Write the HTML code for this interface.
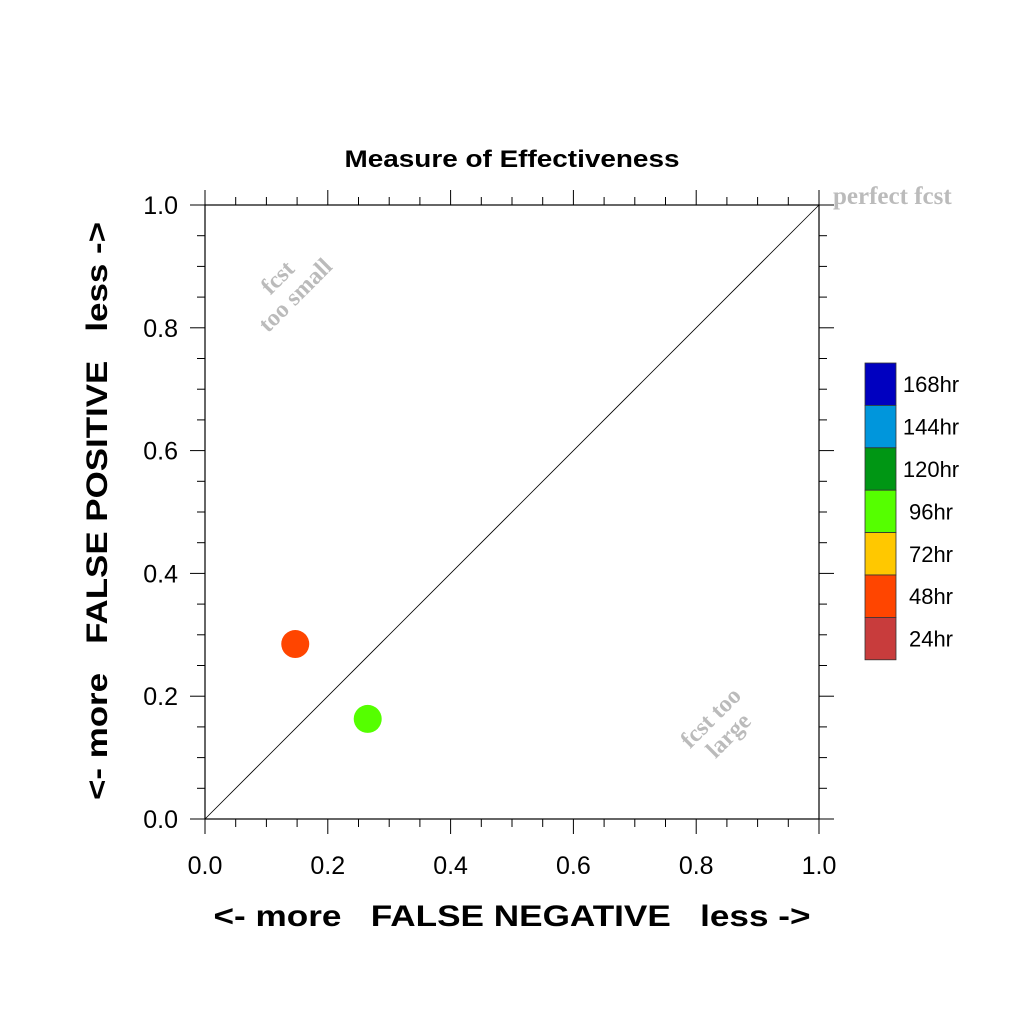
<!DOCTYPE html>
<html><head><meta charset="utf-8"><style>
html,body{margin:0;padding:0;background:#fff}
svg{display:block}
text{font-family:"Liberation Sans",Arial,sans-serif}
.ser{font-family:"Liberation Serif",serif;font-weight:bold;fill:#bbb}
</style></head><body>
<svg id="chart" width="1024" height="1024" viewBox="0 0 1024 1024">
<rect width="1024" height="1024" fill="#fff"/>
<text x="512" y="167" font-size="24" font-weight="bold" text-anchor="middle" textLength="335" lengthAdjust="spacingAndGlyphs">Measure of Effectiveness</text>
<g id="axes"></g>
<line x1="205" y1="819" x2="819" y2="205" stroke="#000" stroke-width="0.8"/>
<text class="ser" x="833" y="204" font-size="25">perfect fcst</text>
<g transform="translate(288,288) rotate(-45)">
<text class="ser" x="0" y="-7" font-size="24" text-anchor="middle">fcst</text>
<text class="ser" x="0" y="18" font-size="24" text-anchor="middle">too small</text></g>
<g transform="translate(719,726) rotate(-45)">
<text class="ser" x="0" y="-4" font-size="24" text-anchor="middle">fcst too</text>
<text class="ser" x="0" y="21" font-size="24" text-anchor="middle">large</text></g>
<g id="points"></g>
<g id="legend"></g>
<text x="512" y="926" font-size="30" font-weight="bold" text-anchor="middle" textLength="597" lengthAdjust="spacingAndGlyphs" xml:space="preserve">&lt;- more   FALSE NEGATIVE   less -&gt;</text>
<text transform="translate(107,511) rotate(-90)" font-size="30" font-weight="bold" text-anchor="middle" textLength="578" lengthAdjust="spacingAndGlyphs" xml:space="preserve">&lt;- more   FALSE POSITIVE   less -&gt;</text>
</svg>
<script>
const tickLabels=["0.0","0.2","0.4","0.6","0.8","1.0"];
const tickValues=[0,0.2,0.4,0.6,0.8,1.0];
const seriesNames=["48hr","96hr"];
const seriesX=[0.147,0.265];
const seriesY=[0.285,0.163];
const seriesColors=["#ff4500","#55ff00"];
const legendLabels=["168hr","144hr","120hr","96hr","72hr","48hr","24hr"];
const legendColors=["#0000c0","#0096dc","#009614","#55ff00","#ffc800","#ff4500","#c83c3c"];
const NS="http://www.w3.org/2000/svg";
const L=205,R=819,T=205,B=819;
const sx=v=>L+v*(R-L), sy=v=>B-v*(B-T);
function mk(tag,attrs,parent){const e=document.createElementNS(NS,tag);for(const k in attrs)e.setAttribute(k,attrs[k]);parent.appendChild(e);return e;}
const ax=document.getElementById('axes');
const frame=mk('rect',{x:L,y:T,width:R-L,height:B-T,fill:'none',stroke:'#000','stroke-width':1.2},ax);


for(let i=0;i<=20;i++){
  const v=i*0.05, major=i%4===0, len=major?15:8;
  const x=sx(v), y=sy(v);
  const a=mk('line',{x1:x,y1:B,x2:x,y2:B+len,stroke:'#000'},ax);
  
  
  const b=mk('line',{x1:x,y1:T,x2:x,y2:T-len,stroke:'#000'},ax);
  
  
  const c=mk('line',{x1:L,y1:y,x2:L-len,y2:y,stroke:'#000'},ax);
  
  
  const d=mk('line',{x1:R,y1:y,x2:R+len,y2:y,stroke:'#000'},ax);
  
  
}
tickValues.forEach((v,i)=>{
  const t=mk('text',{x:sx(v),y:874,'font-size':25,'text-anchor':'middle'},ax);t.textContent=tickLabels[i];
  
  
  const u=mk('text',{x:178,y:sy(v)+9,'font-size':25,'text-anchor':'end'},ax);u.textContent=tickLabels[i];
  
  
});
const pts=document.getElementById('points');
seriesX.forEach((x,i)=>{
  const c=mk('circle',{cx:sx(x),cy:sy(seriesY[i]),r:14,fill:seriesColors[i]},pts);
  
  
});
const lg=document.getElementById('legend');
const bh=42.4;
legendLabels.forEach((lab,i)=>{
  const y=363+i*bh;
  const r=mk('rect',{x:865,y:y,width:31,height:bh,fill:legendColors[i],stroke:'#333','stroke-width':0.8},lg);
  
  
  const t=mk('text',{x:931,y:y+bh/2+8,'font-size':22,'text-anchor':'middle'},lg);t.textContent=lab;
  
  
});
</script>
</body></html>
